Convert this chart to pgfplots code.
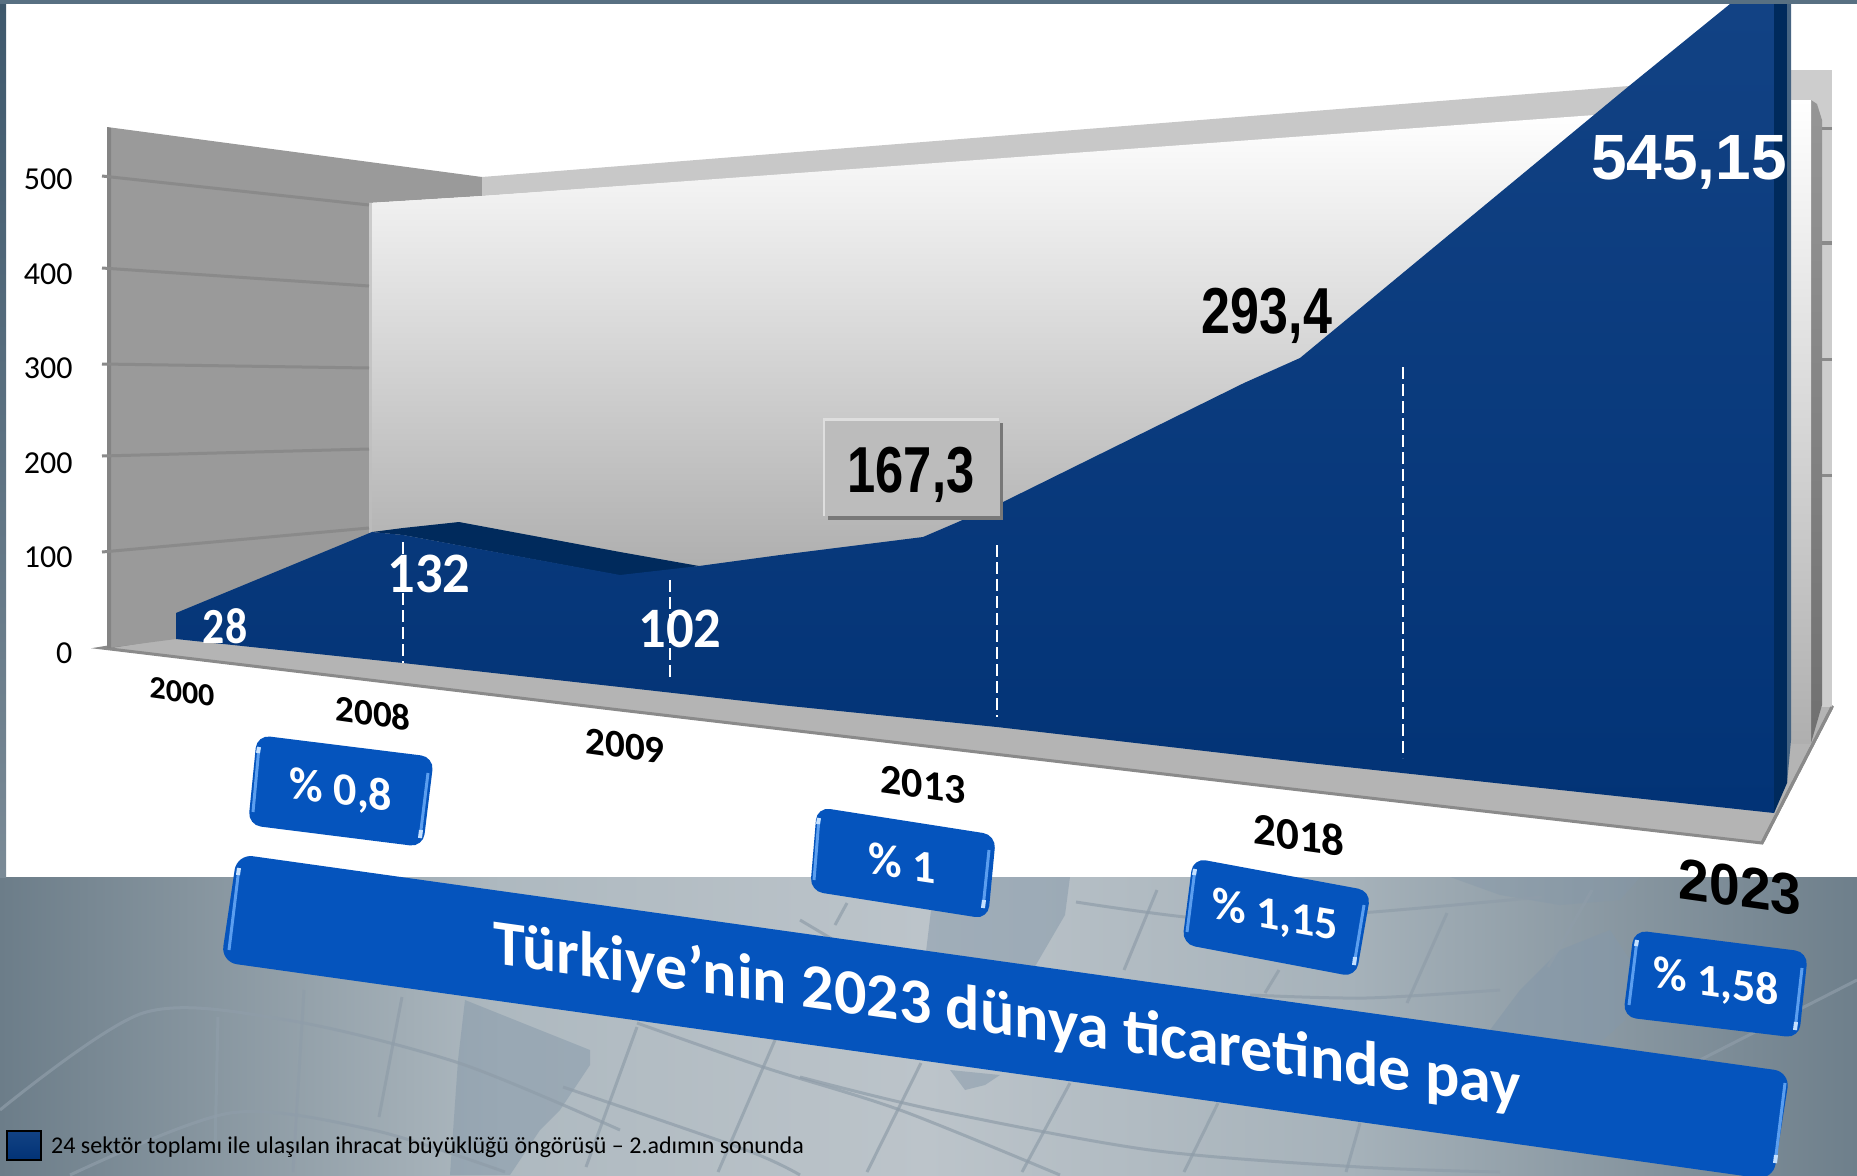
\documentclass[border=0pt]{standalone}
\usepackage{pgfplots}
\pgfplotsset{compat=1.18}
\usepackage{graphicx}
\usepackage{fontspec}
\setmainfont{Carlito}
\newfontfamily\arial{Liberation Sans}
\definecolor{boxblue}{HTML}{0554BD}
\definecolor{hl}{HTML}{5B9EEF}
\definecolor{hd}{HTML}{C4E0FF}
\definecolor{wallg}{HTML}{9A9A9A}
\definecolor{gridg}{HTML}{8A8A8A}
\definecolor{floorg}{HTML}{B4B4B4}
\definecolor{bluetop}{HTML}{124284}
\definecolor{bluebot}{HTML}{023376}
\definecolor{bluedark}{HTML}{002A5C}
\definecolor{legblue}{HTML}{003F8F}
\definecolor{mapline}{HTML}{8F9DA9}
\definecolor{mapland}{HTML}{8598A9}
\definecolor{bgl}{HTML}{6C7D89}
\definecolor{bgm}{HTML}{AEB9C0}
\definecolor{bgn}{HTML}{BCC4CA}
\definecolor{bgo}{HTML}{A6B2BA}
\definecolor{bgr}{HTML}{6E7F8B}
\newcommand{\fs}[1]{\fontsize{#1}{#1}\selectfont}
\begin{document}
\begin{tikzpicture}
\begin{axis}[
  name=a, scale only axis, width=1857pt, height=1175pt,
  xmin=0, xmax=1857, ymin=0, ymax=1175, y dir=reverse,
  axis lines=none, clip=true,
  legend style={at={(axis cs:6,1145)}, anchor=west, draw=none, fill=none, font=\fs{24},
    inner sep=0pt, legend cell align=left},
  map/.style={forget plot, mapline, line width=3pt, opacity=.7},
]
% background
\addplot[forget plot, draw=none, fill=white] coordinates {(0,0)(1857,0)(1857,877)(0,877)} -- cycle;
\addplot[forget plot, draw=none, left color=bgl, right color=bgm] coordinates {(0,877)(501,877)(501,1175)(0,1175)} -- cycle;
\addplot[forget plot, draw=none, left color=bgm, right color=bgo, middle color=bgn] coordinates {(500,877)(1351,877)(1351,1175)(500,1175)} -- cycle;
\addplot[forget plot, draw=none, left color=bgo, right color=bgr] coordinates {(1350,877)(1857,877)(1857,1175)(1350,1175)} -- cycle;
% map land
\addplot[forget plot, draw=none, fill=mapland, opacity=.5] coordinates {(465,1000)(590,1050)(590,1065)(560,1110)(540,1130)(510,1175)(450,1175)(458,1060)} -- cycle;
\addplot[forget plot, draw=none, fill=mapland, opacity=.5] coordinates {(935,877)(1070,877)(1065,915)(1030,975)(960,1000)(925,960)} -- cycle;
\addplot[forget plot, draw=none, fill=mapland, opacity=.5] coordinates {(950,1070)(1000,1075)(985,1085)(965,1090)} -- cycle;
\addplot[forget plot, draw=none, fill=mapland, opacity=.6] coordinates {(1490,1030)(1520,990)(1560,950)(1610,930)(1630,960)(1625,1020)(1560,1080)(1500,1060)} -- cycle;
\addplot[forget plot, draw=none, fill=mapland, opacity=.4] coordinates {(1450,877)(1640,877)(1620,900)(1560,905)(1500,895)} -- cycle;
% map lines
\addplot[map, smooth] coordinates {(0,1110)(143,1013)(287,1020)(459,1063)(620,1130)};
\addplot[map, smooth] coordinates {(70,1175)(230,1113)(373,1130)(505,1172)};
\addplot[map, smooth] coordinates {(637,1023)(763,1067)(900,1110)(1060,1175)};
\addplot[map, smooth] coordinates {(563,1087)(746,1150)(800,1175)};
\addplot[map, smooth] coordinates {(800,920)(935,1000)};
\addplot[map, smooth] coordinates {(800,1077)(935,1110)(1150,1150)(1360,1167)(1500,1172)};
\addplot[map, smooth] coordinates {(1076,902)(1220,920)(1360,913)(1542,897)};
\addplot[map, smooth] coordinates {(1250,995)(1366,998)(1500,990)};
\addplot[map, smooth] coordinates {(1700,1060)(1857,980)};
\addplot[map] coordinates {(218,1017)(215,1150)};
\addplot[map] coordinates {(304,990)(293,1172)};
\addplot[map] coordinates {(402,997)(379,1117)};
\addplot[map] coordinates {(637,1027)(586,1167)};
\addplot[map] coordinates {(775,1040)(718,1172)};
\addplot[map] coordinates {(921,1063)(867,1172)};
\addplot[map] coordinates {(1070,1083)(1022,1172)};
\addplot[map] coordinates {(1218,1103)(1184,1172)};
\addplot[map] coordinates {(1157,890)(1124,970)};
\addplot[map] coordinates {(1279,970)(1265,993)};
\addplot[map] coordinates {(1447,913)(1407,1003)};
\addplot[map] coordinates {(1360,1123)(1346,1172)};
\addplot[map] coordinates {(1592,890)(1548,967)};
\addplot[map] coordinates {(847,903)(835,925)};
% frame strips
\addplot[forget plot, draw=none, fill={rgb,255:red,88;green,112;blue,130}] coordinates {(0,0)(1857,0)(1857,4)(0,4)} -- cycle;
\addplot[forget plot, draw=none, top color={rgb,255:red,62;green,88;blue,108}, bottom color={rgb,255:red,122;green,138;blue,150}] coordinates {(0,4)(6,4)(6,877)(0,877)} -- cycle;
% floor
\addplot[forget plot, draw=gridg, line width=3pt, fill=floorg] coordinates {(102,648)(620,710)(1300,790)(1762,843)(1832,707)(1811,690)(400,600)} -- cycle;
% left wall
\addplot[forget plot, draw=none, fill=wallg] coordinates {(107,127)(482,177)(482,196)(369,203)(369,600)(176,639)(107,648)} -- cycle;
\addplot[forget plot, draw=none, fill={rgb,255:red,132;green,132;blue,132}] coordinates {(107,127)(111,128)(111,648)(107,648)} -- cycle;
% back wall
\addplot[forget plot, draw=none, fill={rgb,255:red,200;green,200;blue,200}] coordinates {(482,177)(1629,86)(1629,115)(482,196)} -- cycle;
\addplot[forget plot, draw=none, top color=white, bottom color={rgb,255:red,162;green,162;blue,162}] coordinates {(369,203)(482,196)(1595,115)(1700,115)(1700,640)(369,640)} -- cycle;
\addplot[forget plot, draw=none, fill={rgb,255:red,190;green,190;blue,190}, opacity=.7] coordinates {(369,203)(372,203)(372,560)(369,560)} -- cycle;
% right wall
\addplot[forget plot, draw=none, fill={rgb,255:red,205;green,205;blue,205}] coordinates {(1791,70)(1832,70)(1832,707)(1791,707)} -- cycle;
\addplot[forget plot, draw=none, top color={rgb,255:red,150;green,150;blue,150}, bottom color={rgb,255:red,112;green,112;blue,112}] coordinates {(1811,100)(1817,104)(1822,120)(1822,705)(1811,743)} -- cycle;
\addplot[forget plot, draw=none, top color=white, bottom color={rgb,255:red,175;green,175;blue,175}] coordinates {(1791,100)(1811,100)(1811,743)(1791,743)} -- cycle;
\addplot[forget plot, gridg, line width=3pt] coordinates {(1822,128)(1832,128)};
\addplot[forget plot, gridg, line width=4pt] coordinates {(1822,243)(1832,243)};
\addplot[forget plot, gridg, line width=3pt] coordinates {(1822,359)(1832,359)};
\addplot[forget plot, gridg, line width=3pt] coordinates {(1822,475)(1832,475)};
\addplot[forget plot, gridg, line width=3pt] coordinates {(1832,707)(1762,843)};
% wall gridlines and ticks
\addplot[forget plot, gridg, line width=3pt] coordinates {(102,176)(369,205)};
\addplot[forget plot, gridg, line width=3pt] coordinates {(102,268)(369,286)};
\addplot[forget plot, gridg, line width=3pt] coordinates {(102,364)(369,368)};
\addplot[forget plot, gridg, line width=3pt] coordinates {(102,456)(369,449)};
\addplot[forget plot, gridg, line width=3pt] coordinates {(102,552)(369,528)};
% area: top surface
\addplot[forget plot, draw=none, fill=bluedark] coordinates {(372,532)(403,528)(459,522)(620,552)(699,566)(628,577)(403,535)} -- cycle;
% area: front, with the legend entry
\addplot[draw=none, top color=bluetop, bottom color=bluebot,
  legend image code/.code={\draw[fill=legblue, draw=black, line width=2pt] (0pt,-14pt) rectangle (34pt,15pt);}]
  coordinates {(176,613)(372,532)(403,535)(620,575)(699,566)(780,555)(923,537)(958,522)(1003,502)(1244,383)(1300,358)(1629,86)(1730,4)(1774,4)(1774,813)(1300,762)(997,727)(780,705)(620,687)(403,663)(176,639)} -- cycle;
\addlegendentry{\hspace*{7pt}24 sektör toplamı ile ulaşılan ihracat büyüklüğü öngörüsü -- 2.adımın sonunda}
\addplot[forget plot, draw=none, fill=bluedark] coordinates {(1774,4)(1787,4)(1787,783)(1774,813)} -- cycle;
\addplot[forget plot, draw=none, fill={rgb,255:red,70;green,100;blue,130}] coordinates {(1787,4)(1791,4)(1791,740)(1787,783)} -- cycle;
% dashed drop lines
\addplot[forget plot, white, line width=1.5pt, dash pattern=on 12pt off 5pt] coordinates {(403,542)(403,663)};
\addplot[forget plot, white, line width=1.5pt, dash pattern=on 12pt off 5pt] coordinates {(670,580)(670,679)};
\addplot[forget plot, white, line width=1.5pt, dash pattern=on 12pt off 5pt] coordinates {(997,545)(997,717)};
\addplot[forget plot, white, line width=1.5pt, dash pattern=on 12pt off 5pt] coordinates {(1403,367)(1403,758)};
% label box
\addplot[forget plot, draw=none, fill={rgb,255:red,120;green,120;blue,120}] coordinates {(828,423)(1003,423)(1003,520)(828,520)} -- cycle;
\addplot[forget plot, draw=none, fill={rgb,255:red,222;green,222;blue,222}] coordinates {(823,418)(999,418)(999,516)(823,516)} -- cycle;
\addplot[forget plot, draw=none, fill={rgb,255:red,188;green,188;blue,188}] coordinates {(825,421)(1000,421)(1000,516)(825,516)} -- cycle;
% boxes
\addplot[forget plot, draw=none, fill=boxblue, rounded corners=13pt] coordinates {(257,735)(434,757)(423,847)(248,825)} -- cycle;
\addplot[forget plot, hl, line width=3pt] coordinates {(259,747)(253,812)};
\addplot[forget plot, hl, line width=3pt] coordinates {(428,773)(420,838)};
\addplot[forget plot, hd, line width=4pt] coordinates {(421,830)(420,838)};
\addplot[forget plot, hd, line width=4pt] coordinates {(259,747)(258,753)};
\addplot[forget plot, draw=none, fill=boxblue, rounded corners=13pt] coordinates {(817,807)(996,835)(988,919)(810,891)} -- cycle;
\addplot[forget plot, hl, line width=3pt] coordinates {(819,818)(814,880)};
\addplot[forget plot, hl, line width=3pt] coordinates {(989,850)(983,908)};
\addplot[forget plot, hd, line width=4pt] coordinates {(984,900)(983,908)};
\addplot[forget plot, hd, line width=4pt] coordinates {(819,818)(818,824)};
\addplot[forget plot, draw=none, fill=boxblue, rounded corners=13pt] coordinates {(1193,858)(1371,891)(1356,977)(1182,944)} -- cycle;
\addplot[forget plot, hl, line width=3pt] coordinates {(1195,869)(1187,932)};
\addplot[forget plot, hl, line width=3pt] coordinates {(1364,905)(1354,965)};
\addplot[forget plot, hd, line width=4pt] coordinates {(1355,957)(1354,965)};
\addplot[forget plot, hd, line width=4pt] coordinates {(1195,869)(1194,875)};
\addplot[forget plot, draw=none, fill=boxblue, rounded corners=13pt] coordinates {(1634,930)(1808,952)(1799,1038)(1623,1017)} -- cycle;
\addplot[forget plot, hl, line width=3pt] coordinates {(1637,940)(1629,1005)};
\addplot[forget plot, hl, line width=3pt] coordinates {(1802,968)(1795,1030)};
\addplot[forget plot, hd, line width=4pt] coordinates {(1796,1022)(1795,1030)};
\addplot[forget plot, hd, line width=4pt] coordinates {(1637,940)(1636,946)};
\addplot[forget plot, draw=none, fill=boxblue, rounded corners=16pt] coordinates {(237,854)(1790,1072)(1773,1180)(221,962)} -- cycle;
\addplot[forget plot, hl, line width=3pt] coordinates {(239,868)(229,950)};
\addplot[forget plot, hl, line width=3pt] coordinates {(1785,1083)(1775,1163)};
\addplot[forget plot, hd, line width=4pt] coordinates {(1776,1155)(1775,1163)};
\addplot[forget plot, hd, line width=4pt] coordinates {(239,868)(238,875)};
% texts
\node[anchor=east,font=\fs{32}] at (axis cs:76,179) {500};
\node[anchor=east,font=\fs{32}] at (axis cs:76,274) {400};
\node[anchor=east,font=\fs{32}] at (axis cs:76,368) {300};
\node[anchor=east,font=\fs{32}] at (axis cs:76,463) {200};
\node[anchor=east,font=\fs{32}] at (axis cs:76,557) {100};
\node[anchor=east,font=\fs{32}] at (axis cs:76,653) {0};
\node[yslant=-.14,font=\fs{32}\bfseries] at (axis cs:182,692) {2000};
\node[yslant=-.14,font=\fs{37}\bfseries] at (axis cs:373,713) {2008};
\node[yslant=-.14,font=\fs{39}\bfseries] at (axis cs:625,746) {2009};
\node[yslant=-.14,font=\fs{42}\bfseries] at (axis cs:923,785) {2013};
\node[yslant=-.14,font=\fs{45}\bfseries] at (axis cs:1299,835) {2018};
\node[yslant=-.14,font=\fs{58}\bfseries\arial] at (axis cs:1740,887) {\scalebox{.95}[1]{2023}};
\node[text=white,font=\fs{46}\bfseries] at (axis cs:225,626) {\scalebox{.95}[1.1]{28}};
\node[text=white,font=\fs{52}\bfseries] at (axis cs:429,574) {\scalebox{1.05}[1.1]{132}};
\node[text=white,font=\fs{52}\bfseries] at (axis cs:680,629) {\scalebox{1.05}[1.1]{102}};
\node[font=\fs{65}\bfseries\arial] at (axis cs:911,475) {\scalebox{.78}[1]{167,3}};
\node[font=\fs{65}\bfseries\arial] at (axis cs:1267,316) {\scalebox{.8}[1]{293,4}};
\node[text=white,font=\fs{64}\bfseries\arial] at (axis cs:1689,162) {545,15};
\node[text=white,yslant=-.13,font=\fs{46}\bfseries] at (axis cs:341,792) {\% 0,8};
\node[text=white,yslant=-.15,font=\fs{46}\bfseries] at (axis cs:902,863) {\% 1};
\node[text=white,yslant=-.18,font=\fs{46}\bfseries] at (axis cs:1275,917) {\% 1,15};
\node[text=white,yslant=-.14,font=\fs{46}\bfseries] at (axis cs:1716,984) {\% 1,58};
\node[text=white,yslant=-.14,font=\fs{64}\bfseries] at (axis cs:1007,1017) {Türkiye’nin 2023 dünya ticaretinde pay};
\end{axis}
\pgfresetboundingbox
\path[use as bounding box] (a.south west) rectangle (a.north east);
\end{tikzpicture}
\end{document}
